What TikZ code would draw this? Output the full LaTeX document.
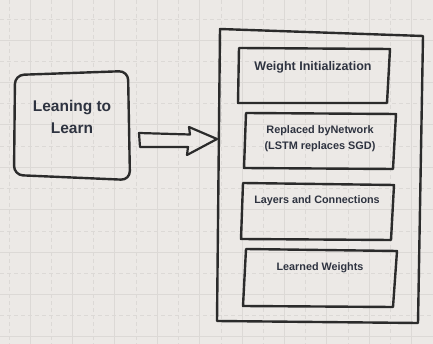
\documentclass[tikz,border=0pt]{standalone}
\usepackage{fontspec}
\setmainfont{Liberation Sans}
\definecolor{bg}{HTML}{ECE9E6}
\definecolor{gridc}{HTML}{DCD9D6}
\definecolor{ink}{HTML}{2B2B2B}
\definecolor{txt}{HTML}{2E3340}
\begin{document}
\begin{tikzpicture}[x=1pt,y=-1pt,
  sketch/.style={draw=ink,line width=2.4pt,line join=round},
  lbl/.style={text=txt,font=\bfseries,align=center,inner sep=0pt},
  gsolid/.style={gridc,line width=0.8pt},
  gdash/.style={gridc,line width=0.8pt,dash pattern=on 4pt off 3pt}]
\fill[bg] (0,0) rectangle (433,344);
\useasboundingbox (0,0) rectangle (433,344);
% grid
\foreach \k in {0,...,9} {
  \draw[gsolid] ({30+42.4*\k},0) -- ({30+42.4*\k},344);
  \draw[gdash] ({9+42.4*\k},0) -- ({9+42.4*\k},344);
}
\foreach \k in {0,...,7} {
  \draw[gsolid] (0,{40+42.4*\k}) -- (433,{40+42.4*\k});
  \draw[gdash] (0,{19+42.4*\k}) -- (433,{19+42.4*\k});
}
% left box
\draw[sketch,rounded corners=9pt] (15,75) -- (128,71) -- (130,180) -- (14,175) -- cycle;
\node[lbl,font=\bfseries\fontsize{15.5}{22}\selectfont] (learn) at (72,117) {Leaning to\\Learn};
% block arrow
\draw[sketch,line width=2.2pt] (139,133) -- (190,134.5) -- (189,127) -- (217,139) -- (187,155) -- (188,147) -- (140,147) -- cycle;
\coordinate (tip) at (217,139);
% outer box
\draw[sketch] (220,29) -- (423,36) -- (418,323) -- (217,321) -- cycle;
% inner boxes
\draw[sketch] (239,48) -- (390,49) -- (387,103) -- (238,103) -- cycle;
\node[lbl,font=\bfseries\fontsize{12.5}{15}\selectfont] (w) at (313,67) {Weight Initialization};
\draw[sketch] (246,113) -- (396,114) -- (393,169) -- (244,168) -- cycle;
\node[lbl,font=\bfseries\fontsize{10.9}{16}\selectfont] (r) at (320,139) {Replaced byNetwork\\(LSTM replaces SGD)};
\draw[sketch] (243,183) -- (394,185) -- (391,240) -- (241,239) -- cycle;
\node[lbl,font=\bfseries\fontsize{10.8}{13}\selectfont] (l) at (317,201) {Layers and Connections};
\draw[sketch] (246,249) -- (397,251) -- (393,307) -- (243,306) -- cycle;
\node[lbl,font=\bfseries\fontsize{10.8}{13}\selectfont] (lw) at (320,268) {Learned Weights};
\end{tikzpicture}
\end{document}
